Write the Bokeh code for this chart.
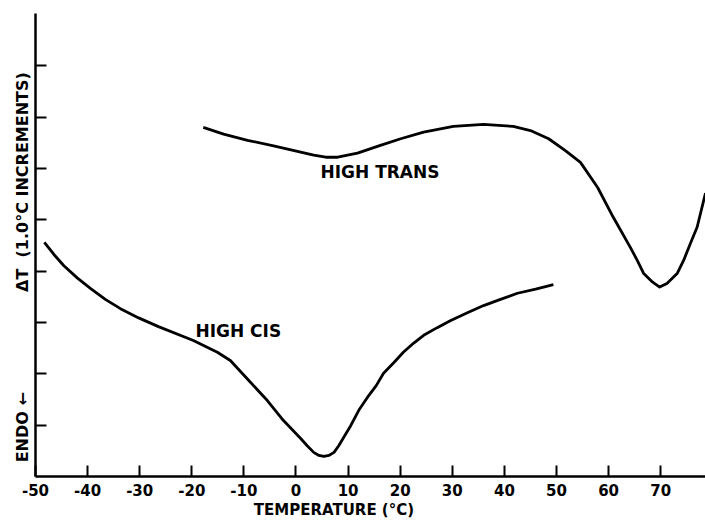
from bokeh.plotting import figure
from bokeh.models import Label, FixedTicker, Range1d
from bokeh.embed import file_html
from bokeh.resources import INLINE

# High trans curve (temperature °C, ΔT in 1.0°C increments)
trans_t = [-17.8, -13.9, -9.3, -4.3, 0.9, 3.4, 5.7, 8.0, 11.8, 16.2, 20.1, 24.5, 30.2, 36.0,
           41.7, 45.0, 48.5, 51.7, 54.6, 57.9, 60.9, 64.2, 65.5, 66.7, 68.4, 69.8, 71.2,
           73.2, 74.4, 75.7, 77.0, 78.6]
trans_dt = [6.80, 6.67, 6.55, 6.44, 6.32, 6.26, 6.22, 6.22, 6.30, 6.45, 6.58, 6.71, 6.82, 6.86,
            6.82, 6.74, 6.58, 6.35, 6.12, 5.63, 5.05, 4.46, 4.21, 3.96, 3.79, 3.69, 3.76,
            3.96, 4.21, 4.54, 4.86, 5.52]

# High cis curve
cis_t = [-48.3, -46.5, -44.6, -42.0, -39.4, -36.6, -33.7, -30.2, -26.4, -19.7, -15.1, -12.6,
         -8.7, -5.5, -2.4, 0.9, 2.15, 3.4, 4.4, 5.35, 6.3, 7.3, 8.2, 9.2, 10.5, 12.05, 13.7,
         15.4, 16.8, 18.8, 20.6, 22.6, 24.5, 27.1, 29.7, 32.9, 36.0, 39.25, 42.5, 46.0, 49.4]
cis_dt = [4.56, 4.33, 4.11, 3.87, 3.66, 3.45, 3.27, 3.09, 2.92, 2.65, 2.42, 2.26,
          1.83, 1.48, 1.09, 0.74, 0.60, 0.47, 0.41, 0.39, 0.41, 0.47, 0.60, 0.77, 0.99, 1.29, 1.54,
          1.77, 2.01, 2.22, 2.42, 2.60, 2.75, 2.90, 3.04, 3.19, 3.33, 3.45, 3.57, 3.65, 3.74]

x_ticks = [-50, -40, -30, -20, -10, 0, 10, 20, 30, 40, 50, 60, 70]
x_tick_labels = ["-50", "-40", "-30", "-20", "-10", "0", "10", "20", "30", "40", "50", "60", "70"]
y_ticks = [1, 2, 3, 4, 5, 6, 7, 8]

FONT = "DejaVu Sans"
NB = "\u00a0"

p = figure(width=705, height=521, x_range=Range1d(-50, 78.6), y_range=Range1d(0, 9.02),
           output_backend="svg", toolbar_location=None,
           min_border_left=35, min_border_right=0, min_border_top=13, min_border_bottom=45)
p.grid.visible = False
p.outline_line_color = None
p.background_fill_color = "white"
p.border_fill_color = "white"

for ax in (p.xaxis, p.yaxis):
    ax.axis_line_width = 2.5
    ax.axis_line_color = "black"
    ax.major_tick_line_width = 2
    ax.major_tick_line_color = "black"
    ax.major_tick_in = 11
    ax.major_tick_out = 0
    ax.minor_tick_line_color = None
    ax.axis_label_text_font = FONT
    ax.axis_label_text_font_style = "bold"
    ax.axis_label_text_color = "black"

p.xaxis.ticker = FixedTicker(ticks=x_ticks)
p.xaxis.major_label_overrides = dict(zip(x_ticks, x_tick_labels))
p.xaxis.major_label_text_font = FONT
p.xaxis.major_label_text_font_style = "bold"
p.xaxis.major_label_text_font_size = "15px"
p.xaxis.major_label_text_color = "black"
p.xaxis.major_label_standoff = 7
p.xaxis.axis_label = "TEMPERATURE (°C)" + NB * 14
p.xaxis.axis_label_text_font_size = "15px"
p.xaxis.axis_label_standoff = 2

p.yaxis.ticker = FixedTicker(ticks=y_ticks)
p.yaxis.major_label_text_color = None
p.yaxis.major_label_text_font_size = "1px"
p.yaxis.major_label_standoff = 0
p.yaxis.axis_label = ("ENDO" + NB + "\u2190" + NB * 18 + "\u0394T" + NB * 2 +
                      "(1.0°C" + NB + "INCREMENTS)" + NB * 8)
p.yaxis.axis_label_text_font_size = "16px"
p.yaxis.axis_label_standoff = 4

p.line(trans_t, trans_dt, line_color="black", line_width=2.8, line_join="round")
p.line(cis_t, cis_dt, line_color="black", line_width=2.8, line_join="round")

p.add_layout(Label(x=4.7, y=5.93, text="HIGH TRANS", text_font=FONT, text_font_style="bold",
                   text_font_size="17px", text_baseline="middle", text_align="left",
                   text_color="black"))
p.add_layout(Label(x=-19.3, y=2.84, text="HIGH CIS", text_font=FONT, text_font_style="bold",
                   text_font_size="17px", text_baseline="middle", text_align="left",
                   text_color="black"))

open("out.html", "w").write(file_html(p, INLINE))
